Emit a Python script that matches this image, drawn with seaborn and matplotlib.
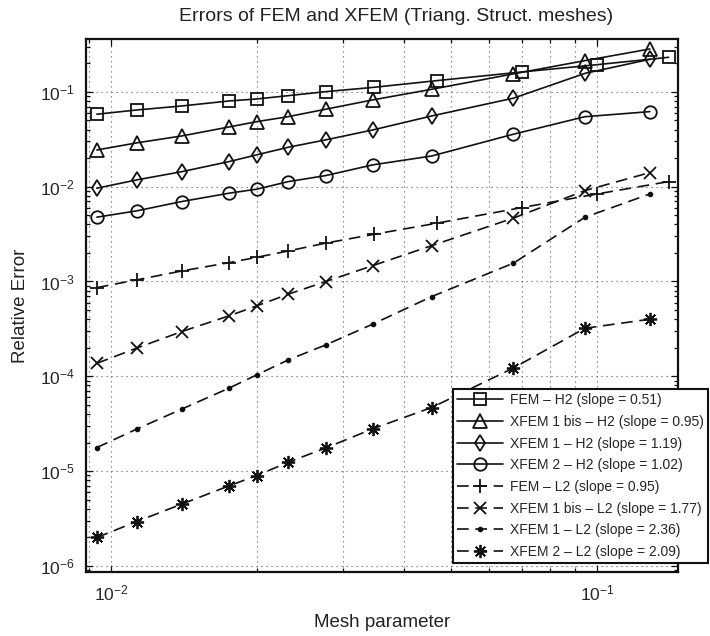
import matplotlib
matplotlib.use("Agg")
import matplotlib.pyplot as plt
import matplotlib.ticker as mticker
import numpy as np
import seaborn as sns

# mesh parameters (XFEM runs and FEM runs differ on the coarse meshes)
h_xfem = [0.00935, 0.01129, 0.01397, 0.01749, 0.01995, 0.02317, 0.02765,
          0.03456, 0.04570, 0.06728, 0.09447, 0.1285]
h_fem = [0.00935, 0.01129, 0.01397, 0.01749, 0.01995, 0.02317, 0.02765,
         0.03480, 0.04680, 0.07002, 0.1001, 0.1404]

# relative errors
fem_h2 = [0.0582, 0.0645, 0.0711, 0.0803, 0.0843, 0.0914, 0.1007, 0.112,
          0.1316, 0.1625, 0.194, 0.232]
xfem1bis_h2 = [0.0244, 0.0290, 0.0343, 0.0427, 0.0486, 0.0549, 0.0657,
               0.0824, 0.1067, 0.155, 0.214, 0.284]
xfem1_h2 = [0.00964, 0.0118, 0.0144, 0.0184, 0.0217, 0.0261, 0.0312,
            0.0397, 0.0558, 0.0859, 0.157, 0.221]
xfem2_h2 = [0.00477, 0.00556, 0.00697, 0.00854, 0.00942, 0.01132, 0.0131,
            0.0170, 0.0211, 0.0358, 0.0548, 0.0620]
fem_l2 = [0.000862, 0.00104, 0.00129, 0.00158, 0.00180, 0.00210, 0.00254,
          0.00315, 0.00412, 0.00602, 0.00839, 0.01132]
xfem1bis_l2 = [0.000137, 0.000198, 0.000296, 0.000434, 0.000553, 0.000735,
               0.000998, 0.00147, 0.00239, 0.00466, 0.0091, 0.0141]
xfem1_l2 = [1.77e-5, 2.77e-5, 4.50e-5, 7.49e-5, 1.035e-4, 1.49e-4, 2.14e-4,
            3.55e-4, 6.93e-4, 0.00156, 0.00476, 0.00839]
xfem2_l2 = [1.99e-6, 2.93e-6, 4.47e-6, 6.98e-6, 8.96e-6, 1.24e-5, 1.75e-5,
            2.79e-5, 4.68e-5, 1.22e-4, 3.21e-4, 4.00e-4]

labels = ["FEM \u2013 H2 (slope = 0.51)",
          "XFEM 1 bis \u2013 H2 (slope = 0.95)",
          "XFEM 1 \u2013 H2 (slope = 1.19)",
          "XFEM 2 \u2013 H2 (slope = 1.02)",
          "FEM \u2013 L2 (slope = 0.95)",
          "XFEM 1 bis \u2013 L2 (slope = 1.77)",
          "XFEM 1 \u2013 L2 (slope = 2.36)",
          "XFEM 2 \u2013 L2 (slope = 2.09)"]

sns.set_style("ticks")
plt.rcParams["font.family"] = ["Liberation Sans", "DejaVu Sans"]
plt.rcParams["mathtext.default"] = "regular"

fig = plt.figure(figsize=(7.1, 6.36), dpi=100)
ax = fig.add_axes([0.1211, 0.1006, 0.8338, 0.8381])
ax.set_xscale("log")
ax.set_yscale("log")

series = [
    (h_fem, fem_h2, "s", 8.6, "none", False),
    (h_xfem, xfem1bis_h2, "^", 10, "none", False),
    (h_xfem, xfem1_h2, "d", 7.8, "none", False),
    (h_xfem, xfem2_h2, "o", 9, "none", False),
    (h_fem, fem_l2, "+", 10, "k", True),
    (h_xfem, xfem1bis_l2, "x", 8, "k", True),
    (h_xfem, xfem1_l2, ".", 5.5, "k", True),
    (h_xfem, xfem2_l2, (8, 2, 0), 9.5, "k", True),
]

for (x, y, mk, ms, fc, dashed), lab in zip(series, labels):
    sns.lineplot(x=x, y=y, ax=ax, color="#111111", lw=1.2, marker=mk,
                 markersize=ms, markerfacecolor=fc,
                 markeredgecolor="#111111", markeredgewidth=1.3,
                 label=lab, sort=False, errorbar=None)
    if dashed:
        ax.lines[-1].set_dashes([7, 4])

ax.set_xlim(0.00888, 0.1468)
ax.set_ylim(8.6e-7, 0.362)

ax.xaxis.set_minor_formatter(mticker.NullFormatter())
ax.yaxis.set_minor_locator(mticker.LogLocator(base=10, subs=np.arange(2, 10), numticks=20))
ax.yaxis.set_minor_formatter(mticker.NullFormatter())

# matlab-like sparse dotted grid
grid_kw = dict(ls=(0, (1, 3.5)), color="0.35", lw=0.8)
ax.grid(True, which="major", axis="both", **grid_kw)
ax.grid(True, which="minor", axis="x", **grid_kw)

ax.tick_params(which="both", direction="in", top=True, right=True,
               labelsize=12.5, pad=8, width=0.9, color="#111111")
ax.tick_params(which="major", length=5)
ax.tick_params(which="minor", length=2.8)
for sp in ax.spines.values():
    sp.set_linewidth(1.6)
    sp.set_color("#111111")

ax.set_title("Errors of FEM and XFEM (Triang. Struct. meshes)",
             fontsize=14, pad=13, color="#222222", x=0.524)
ax.set_xlabel("Mesh parameter", fontsize=13.5, labelpad=8, color="#222222")
ax.set_ylabel("Relative Error", fontsize=13.5, labelpad=8, color="#222222")

leg = ax.legend(loc="lower left", bbox_to_anchor=(0.620, 0.017, 0.431, 0.353),
                mode="expand", fontsize=10, handlelength=3.3, handletextpad=0.5,
                borderpad=0.3, labelspacing=0.55, frameon=True, fancybox=False,
                borderaxespad=0)
leg.get_frame().set_edgecolor("#111111")
leg.get_frame().set_linewidth(1.5)
leg.get_frame().set_alpha(1)

fig.savefig("out.png", dpi=100)
